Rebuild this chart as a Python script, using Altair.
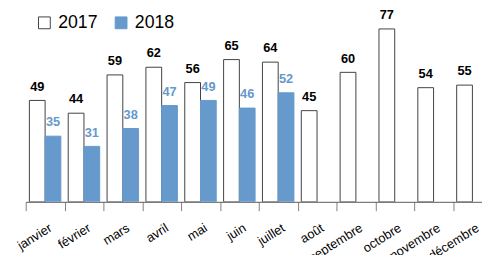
import altair as alt
import pandas as pd

months = ["janvier", "février", "mars", "avril", "mai", "juin", "juillet",
          "août", "septembre", "octobre", "novembre", "décembre"]
v2017 = [49, 44, 59, 62, 56, 65, 64, 45, 60, 77, 54, 55]
v2018 = [35, 31, 38, 47, 49, 46, 52]
years = ["2017", "2018"]

rows = []
for i, m in enumerate(months):
    rows.append({"mois": m, "annee": "2017", "valeur": v2017[i]})
    if i < len(v2018):
        rows.append({"mois": m, "annee": "2018", "valeur": v2018[i]})
df = pd.DataFrame(rows)

YMIN, YMAX = 9.3, 84.4
BLUE = "#6699CC"

leg = alt.Legend(title=None, orient="none", legendX=10, legendY=4, direction="horizontal",
                 symbolType="square", symbolSize=144, symbolStrokeWidth=1,
                 labelFont="Liberation Sans", labelFontSize=18, labelColor="#000000",
                 labelOffset=5, columnPadding=14)

xenc = alt.X("mois:N", sort=months, title=None,
             scale=alt.Scale(domain=months, range=[0, 474], paddingInner=0, paddingOuter=0),
             axis=alt.Axis(labelAngle=-32, labelAlign="right", labelBaseline="top",
                           labelFont="Liberation Sans", labelFontSize=13, labelColor="#000000",
                           labelPadding=11, labelOffset=2, tickBand="extent", tickSize=9,
                           tickColor="#7f7f7f", tickWidth=1, domainColor="#595959",
                           domainWidth=1, labelOverlap=False, labelBound=False))
xoff = alt.XOffset("annee:N", scale=alt.Scale(domain=years, paddingOuter=0.234, paddingInner=0))
yenc = alt.Y("valeur:Q", scale=alt.Scale(domain=[YMIN, YMAX], zero=False), axis=None)

base = alt.Chart(df)

bars = base.mark_bar(clip=True, strokeWidth=1).encode(
    x=xenc, xOffset=xoff, y=yenc, y2=alt.datum(YMIN),
    fill=alt.Fill("annee:N", scale=alt.Scale(domain=years, range=["#FFFFFF", BLUE]), legend=leg),
    stroke=alt.Stroke("annee:N", scale=alt.Scale(domain=years, range=["#404040", BLUE]), legend=leg),
)

labels = base.mark_text(baseline="alphabetic", dy=-10, fontWeight="bold", fontSize=13,
                        font="Liberation Sans").encode(
    x=xenc, xOffset=xoff, y=yenc, text="valeur:Q",
    color=alt.Color("annee:N", scale=alt.Scale(domain=years, range=["#000000", BLUE]), legend=None),
)

chart = alt.layer(bars, labels).properties(
    width=464, height=195,
    autosize=alt.AutoSizeParams(type="none"),
    padding={"left": 18, "top": 0, "right": 0, "bottom": 52},
).configure_view(stroke=None).resolve_scale(color="independent")

chart.save("out.html", embed_options={"renderer": "svg", "actions": False})
